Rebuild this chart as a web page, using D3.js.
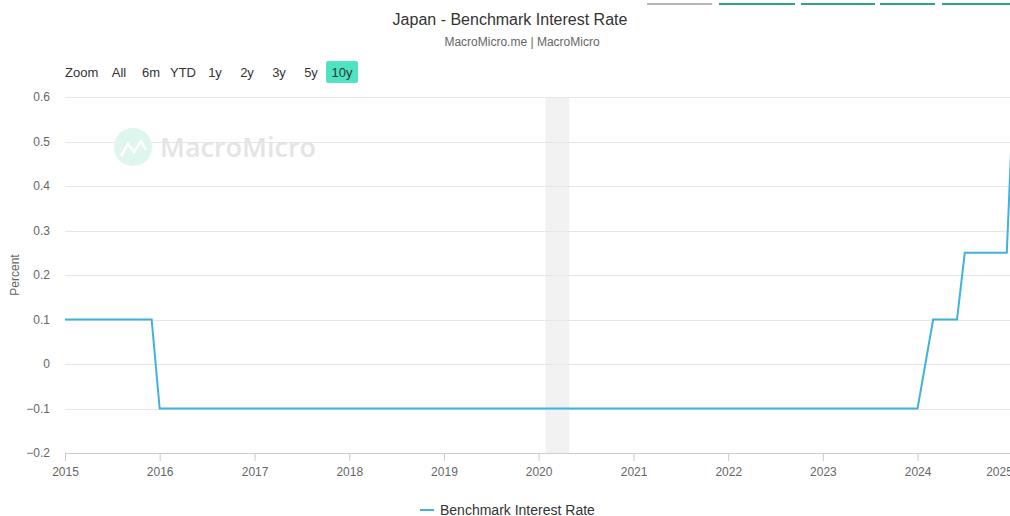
<!DOCTYPE html>
<html><head><meta charset="utf-8">
<script src="https://cdn.jsdelivr.net/npm/d3@7"></script>
<style>body{margin:0;background:#fff}svg{display:block;font-family:"Liberation Sans",Arial,sans-serif}</style>
</head><body>
<script>
const dates = ["2015-01-01","2015-12-01","2016-01-01","2024-01-01","2024-03-01","2024-06-01","2024-07-01","2024-12-10","2024-12-28"];
const values = [0.1,0.1,-0.1,-0.1,0.1,0.1,0.25,0.25,0.5];
const yTicks = [-0.2,-0.1,0,0.1,0.2,0.3,0.4,0.5,0.6];
const xTickYears = [2015,2016,2017,2018,2019,2020,2021,2022,2023,2024,2025];
const recession = ["2020-01-27","2020-04-28"];
const rangeButtons = ["All","6m","YTD","1y","2y","3y","5y","10y"];
const title = "Japan - Benchmark Interest Rate";
const subtitle = "MacroMicro.me | MacroMicro";
const seriesName = "Benchmark Interest Rate";

const W=1010,H=516;
const svg=d3.select("body").append("svg").attr("width",W).attr("height",H);
const parse=d3.utcParse("%Y-%m-%d");
const data=dates.map((d,i)=>({d:parse(d),v:values[i]}));
const x=d3.scaleUtc().domain([parse("2015-01-01"),parse("2025-01-01")]).range([65,1012.5]);
const y=d3.scaleLinear().domain([-0.2,0.6]).range([453,97]);
const plotR=1010;

// top cut-off buttons
const topBars=[[647,712,"#b8b8b8"],[719,795,"#2aa58c"],[801,875,"#2aa58c"],[880,935,"#2aa58c"],[942,1010,"#2aa58c"]];
svg.selectAll(".tb").data(topBars).join("rect").attr("x",d=>d[0]).attr("y",3).attr("width",d=>d[1]-d[0]).attr("height",2).attr("fill",d=>d[2]);

svg.append("text").attr("x",510).attr("y",25).attr("text-anchor","middle").attr("font-size",16).attr("fill","#333").text(title);
svg.append("text").attr("x",522).attr("y",46).attr("text-anchor","middle").attr("font-size",12).attr("fill","#666").text(subtitle);

// range selector
svg.append("text").attr("x",65).attr("y",77).attr("font-size",13).attr("fill","#333").text("Zoom");
const bx=[119,151,183,215,247,279,311,342];
svg.append("rect").attr("x",326).attr("y",61).attr("width",32).attr("height",22).attr("rx",2).attr("fill","#4fe3c1");
svg.selectAll(".rb").data(rangeButtons).join("text").attr("x",(d,i)=>bx[i]).attr("y",77).attr("text-anchor","middle").attr("font-size",13).attr("fill","#333").text(d=>d);

// recession band
svg.append("rect").attr("x",x(parse(recession[0]))).attr("y",97).attr("width",x(parse(recession[1]))-x(parse(recession[0]))).attr("height",356).attr("fill","#f2f2f2");

// grid
svg.selectAll(".g").data(yTicks.filter(t=>t>-0.2)).join("line").attr("x1",65).attr("x2",plotR).attr("y1",d=>Math.round(y(d))+0.5).attr("y2",d=>Math.round(y(d))+0.5).attr("stroke","#e6e6e6");

// watermark
svg.append("circle").attr("cx",133).attr("cy",147).attr("r",19).attr("fill","#def6ee");
svg.append("path").attr("d","M121,156 L128,144 L134,152 L141,141 L146,150").attr("fill","none").attr("stroke","#fff").attr("stroke-width",2.5);
svg.append("text").attr("x",160).attr("y",157).attr("font-size",27).attr("font-family","'Open Sans',sans-serif").attr("font-weight",600).attr("fill","#e4e4e4").text("MacroMicro");

// y axis labels
svg.selectAll(".yl").data(yTicks).join("text").attr("x",50).attr("y",d=>y(d)+4).attr("text-anchor","end").attr("font-size",12).attr("fill","#666").text(d=>d3.format("")(+d.toFixed(1)));
svg.append("text").attr("transform","translate(19,275) rotate(-90)").attr("text-anchor","middle").attr("font-size",12).attr("fill","#666").text("Percent");

// x axis
const xa=svg.append("g").attr("transform","translate(0,453)").call(d3.axisBottom(x).tickValues(xTickYears.map(yr=>new Date(Date.UTC(yr,0,1)))).tickFormat(d3.utcFormat("%Y")).tickSize(8).tickPadding(6));
xa.select(".domain").attr("stroke","#ccc").attr("d","M65,0.5H"+plotR);
xa.selectAll(".tick line").attr("stroke","#ccc");
xa.selectAll(".tick text").attr("fill","#666").attr("font-size",12).attr("font-family","'Liberation Sans',Arial,sans-serif")
  .attr("dx",function(d){ const px=x(d); return px>990 ? (986-px+13)+"px" : 0; });

// line
svg.append("clipPath").attr("id","cp").append("rect").attr("x",60).attr("y",90).attr("width",plotR-60).attr("height",370);
svg.append("path").datum(data).attr("clip-path","url(#cp)").attr("fill","none").attr("stroke","#41b1de").attr("stroke-width",2)
 .attr("d",d3.line().x(d=>x(d.d)).y(d=>y(d.v)));

// legend
svg.append("line").attr("x1",420).attr("x2",434).attr("y1",510).attr("y2",510).attr("stroke","#41b1de").attr("stroke-width",2);
svg.append("text").attr("x",440).attr("y",515).attr("font-size",14).attr("fill","#333").text(seriesName);
</script>
</body></html>
